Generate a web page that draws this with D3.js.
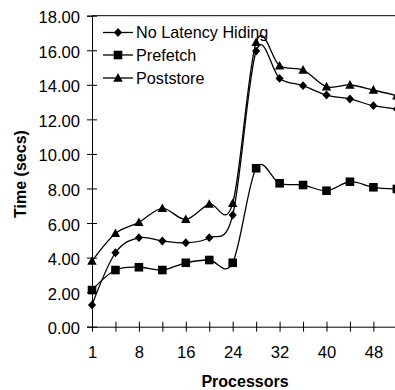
<!DOCTYPE html>
<html>
<head>
<meta charset="utf-8">
<script src="https://cdn.jsdelivr.net/npm/d3@7"></script>
<style>
  html, body { margin: 0; padding: 0; background: #fff; }
  svg { display: block; font-family: "Liberation Sans", Arial, sans-serif; }
</style>
</head>
<body>
<svg id="chart" width="395" height="390"></svg>
<script>
// Processor counts along the category axis
const processors = [1, 4, 8, 12, 16, 20, 24, 28, 32, 36, 40, 44, 48, 52];
// Labels shown on every other category
const xTickLabels = [1, 8, 16, 24, 32, 40, 48];
const yTicks = [0, 2, 4, 6, 8, 10, 12, 14, 16, 18];

// Execution time (secs) per configuration
const noLatencyHiding = [1.26, 4.28, 5.15, 4.96, 4.86, 5.15, 6.46, 15.95, 14.37, 13.95, 13.41, 13.18, 12.79, 12.60];
const prefetch        = [2.12, 3.28, 3.44, 3.28, 3.70, 3.86, 3.70, 9.17, 8.30, 8.20, 7.87, 8.39, 8.07, 7.97];
const poststore       = [3.80, 5.40, 6.04, 6.85, 6.21, 7.10, 7.14, 16.46, 15.10, 14.86, 13.89, 13.99, 13.70, 13.37];

const seriesNames = ["No Latency Hiding", "Prefetch", "Poststore"];

const svg = d3.select("#chart");
const plotLeft = 92, plotTop = 15.7, plotBottom = 326.7, step = 23.45;
const plotRight = plotLeft + step * (processors.length - 1);

const x = d3.scalePoint().domain(processors).range([plotLeft, plotRight]);
const y = d3.scaleLinear().domain([0, 18]).range([plotBottom, plotTop]);

// Marker shapes
const markers = {
  diamond: "M0,-4.4L4.1,0L0,4.4L-4.1,0Z",
  square: "M-4.3,-4.3H4.3V4.3H-4.3Z",
  triangle: "M0,-4.9L4.7,3.7H-4.7Z"
};
const series = [
  { name: seriesNames[0], values: noLatencyHiding, marker: markers.diamond },
  { name: seriesNames[1], values: prefetch, marker: markers.square },
  { name: seriesNames[2], values: poststore, marker: markers.triangle }
];

// Plot area top border
svg.append("line")
  .attr("x1", plotLeft).attr("x2", 395)
  .attr("y1", plotTop).attr("y2", plotTop)
  .attr("stroke", "#000").attr("stroke-width", 1);

// Y axis
const yAxis = svg.append("g")
  .attr("transform", `translate(${plotLeft},0)`)
  .call(d3.axisLeft(y).tickValues(yTicks).tickSize(5).tickPadding(7)
    .tickFormat(d => d3.format(".2f")(d)));
yAxis.selectAll(".tick line").attr("x1", 5);

// X axis
const xAxis = svg.append("g")
  .attr("transform", `translate(0,${plotBottom})`)
  .call(d3.axisBottom(x).tickSize(5).tickPadding(15)
    .tickFormat(d => xTickLabels.includes(d) ? d : ""));
xAxis.selectAll(".tick line").attr("y1", -5);
xAxis.select(".domain").attr("d", `M${plotLeft},0.5H395`);

[yAxis, xAxis].forEach(g => {
  g.selectAll("text").attr("font-size", 16.6).attr("font-family", "Liberation Sans, Arial, sans-serif").attr("fill", "#000");
  g.selectAll("line, path").attr("stroke", "#000").attr("stroke-width", 1);
});
yAxis.selectAll(".tick text").attr("dy", "0.42em");

// Series lines (smoothed) and markers
const line = d3.line()
  .x((d, i) => x(processors[i]))
  .y(d => y(d))
  .curve(d3.curveCardinal.tension(0));

series.forEach(s => {
  svg.append("path")
    .datum(s.values)
    .attr("d", line)
    .attr("fill", "none")
    .attr("stroke", "#000")
    .attr("stroke-width", 1.3);
  svg.append("g").selectAll("path")
    .data(s.values)
    .join("path")
    .attr("d", s.marker)
    .attr("transform", (d, i) => `translate(${x(processors[i])},${y(d)})`)
    .attr("fill", "#000");
});

// Legend
const legendRows = [32.5, 55, 78];
series.forEach((s, i) => {
  const g = svg.append("g").attr("transform", `translate(0,${legendRows[i]})`);
  g.append("line").attr("x1", 103).attr("x2", 133).attr("y1", 0).attr("y2", 0)
    .attr("stroke", "#000").attr("stroke-width", 1.3);
  g.append("path").attr("d", s.marker).attr("transform", "translate(118,0)").attr("fill", "#000");
  g.append("text").attr("x", 136).attr("dy", "0.36em")
    .attr("font-size", 16.2).text(s.name);
});

// Axis titles
svg.append("text")
  .attr("transform", "translate(20,174) rotate(-90)")
  .attr("text-anchor", "middle").attr("dy", "0.36em")
  .attr("font-size", 16).attr("font-weight", "bold")
  .text("Time (secs)");
svg.append("text")
  .attr("x", 245).attr("y", 381)
  .attr("text-anchor", "middle").attr("dy", "0.36em")
  .attr("font-size", 16).attr("font-weight", "bold")
  .text("Processors");
</script>
</body>
</html>
